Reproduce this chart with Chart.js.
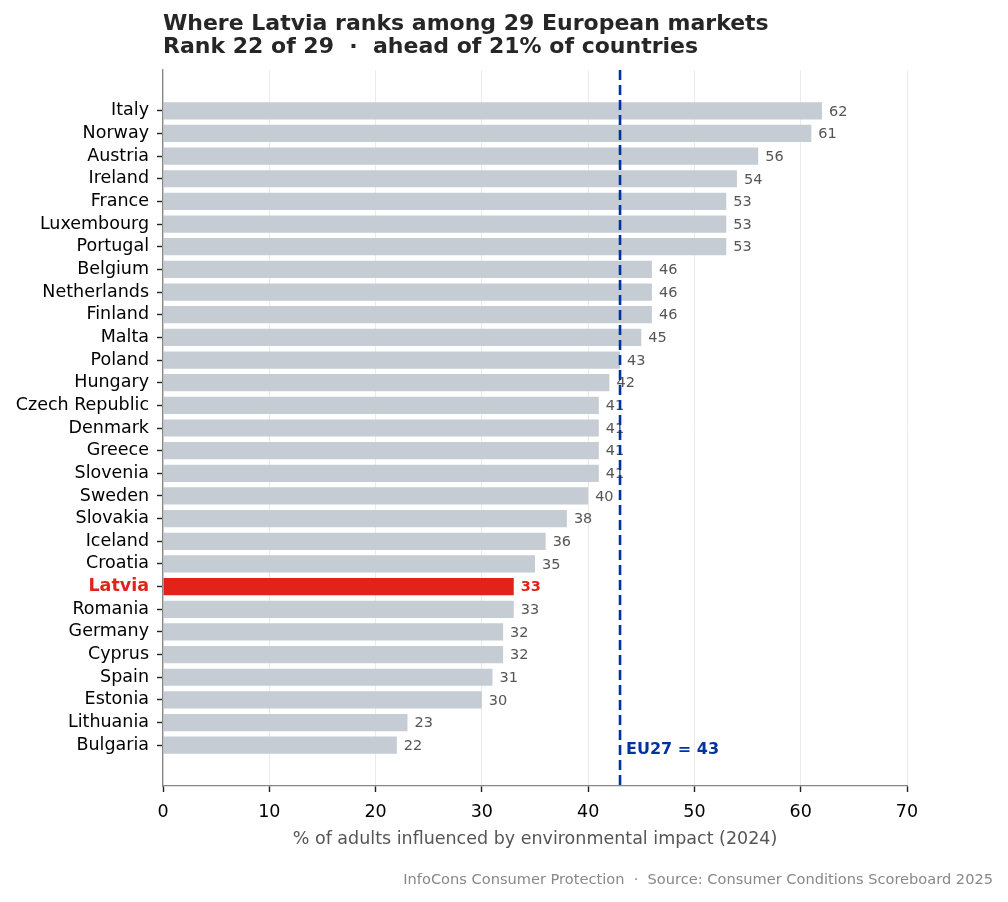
<!DOCTYPE html>
<html>
<head>
<meta charset="utf-8">
<script src="https://cdn.jsdelivr.net/npm/chart.js@4/dist/chart.umd.min.js"></script>
<style>
  html, body { margin: 0; padding: 0; background: #fff; }
  #wrap { width: 1008px; height: 902px; }
</style>
</head>
<body>
<div id="wrap"><canvas id="rank_chart" width="1008" height="902"></canvas></div>
<script>
// data
const countries = ['Italy', 'Norway', 'Austria', 'Ireland', 'France', 'Luxembourg', 'Portugal',
  'Belgium', 'Netherlands', 'Finland', 'Malta', 'Poland', 'Hungary', 'Czech Republic', 'Denmark',
  'Greece', 'Slovenia', 'Sweden', 'Slovakia', 'Iceland', 'Croatia', 'Latvia', 'Romania', 'Germany',
  'Cyprus', 'Spain', 'Estonia', 'Lithuania', 'Bulgaria']
const values = [62, 61, 56, 54, 53, 53, 53, 46, 46, 46, 45, 43, 42, 41, 41, 41, 41, 40, 38, 36, 35,
  33, 33, 32, 32, 31, 30, 23, 22]
const xTicks = [0, 10, 20, 30, 40, 50, 60, 70]
const eu27 = 43
const focus = 'Latvia'

const titleLines = ['Where Latvia ranks among 29 European markets',
  'Rank 22 of 29  \u00b7  ahead of 21% of countries']
const xTitle = '% of adults influenced by environmental impact (2024)'
const footer = 'InfoCons Consumer Protection  \u00b7  Source: Consumer Conditions Scoreboard 2025'

const FONT = "'DejaVu Sans', sans-serif"
const GREY = '#c5ccd4'
const RED = '#e2231a'
const BLUE = '#0033a0'

const isFocus = i => countries[i] === focus

// labels, EU27 line, title, footer
const extras = {
  id: 'extras',
  afterDatasetsDraw(chart) {
    const ctx = chart.ctx
    const area = chart.chartArea
    const xs = chart.scales.x
    const ys = chart.scales.y

    // value labels at bar ends
    const meta = chart.getDatasetMeta(0)
    ctx.save()
    ctx.textBaseline = 'middle'
    ctx.textAlign = 'left'
    meta.data.forEach((bar, i) => {
      ctx.font = (isFocus(i) ? 'bold ' : '') + '14.5px ' + FONT
      ctx.fillStyle = isFocus(i) ? RED : '#555555'
      ctx.fillText(String(values[i]), bar.x + 7, bar.y + 1)
    })

    // EU27 reference line
    const ex = xs.getPixelForValue(eu27)
    ctx.strokeStyle = BLUE
    ctx.lineWidth = 2.6
    ctx.setLineDash([10, 5])
    ctx.beginPath()
    ctx.moveTo(ex, area.top)
    ctx.lineTo(ex, area.bottom)
    ctx.stroke()
    ctx.setLineDash([])
    ctx.font = 'bold 16px ' + FONT
    ctx.fillStyle = BLUE
    ctx.fillText('EU27 = ' + eu27, ex + 6, ys.getPixelForValue(28.2))

    // title
    ctx.font = 'bold 22px ' + FONT
    ctx.fillStyle = '#262626'
    ctx.fillText(titleLines[0], area.left, 24)
    ctx.fillText(titleLines[1], area.left, 47)

    // footer
    ctx.font = '14.6px ' + FONT
    ctx.fillStyle = '#888888'
    ctx.textAlign = 'right'
    ctx.fillText(footer, 993, 880)
    ctx.restore()
  }
}

new Chart(document.getElementById('rank_chart'), {
  type: 'bar',
  data: {
    datasets: [{
      data: values.map((v, i) => ({ x: v, y: i })),
      backgroundColor: countries.map((c, i) => isFocus(i) ? RED : GREY),
      borderWidth: 0,
      barPercentage: 0.76,
      categoryPercentage: 1
    }]
  },
  options: {
    indexAxis: 'y',
    responsive: false,
    devicePixelRatio: 1,
    animation: false,
    layout: { padding: { top: 70, right: 101, left: 0, bottom: 0 } },
    plugins: {
      legend: { display: false },
      tooltip: { enabled: false }
    },
    scales: {
      x: {
        type: 'linear',
        min: 0,
        max: 70,
        afterBuildTicks: s => { s.ticks = xTicks.map(v => ({ value: v })) },
        afterFit: s => { s.height = 116 },
        ticks: { color: '#000', font: { family: FONT, size: 17.5 }, padding: 10 },
        grid: { color: '#ebebeb', lineWidth: 1, tickColor: '#222', tickWidth: 1.4, tickLength: 6 },
        border: { color: '#888', width: 1.3, z: 1 },
        title: {
          display: true,
          text: xTitle,
          color: '#555555',
          font: { family: FONT, size: 17.5 },
          padding: { top: 0, bottom: 52 }
        }
      },
      y: {
        type: 'linear',
        reverse: true,
        offset: false,
        min: -1.8,
        max: 29.8,
        afterBuildTicks: s => { s.ticks = countries.map((c, i) => ({ value: i })) },
        afterFit: s => { s.width = 163 },
        ticks: {
          callback: v => countries[v],
          color: ctx => isFocus(ctx.index) ? RED : '#000',
          font: ctx => ({ family: FONT, size: 17.5, weight: isFocus(ctx.index) ? 'bold' : 'normal' }),
          padding: 8,
          autoSkip: false
        },
        grid: {
          offset: false,
          drawOnChartArea: false,
          drawTicks: true,
          color: '#222',
          tickColor: '#222',
          tickWidth: 1.4,
          tickLength: 6
        },
        border: { color: '#888', width: 1.3, z: 1 }
      }
    }
  },
  plugins: [extras]
})
</script>
</body>
</html>
